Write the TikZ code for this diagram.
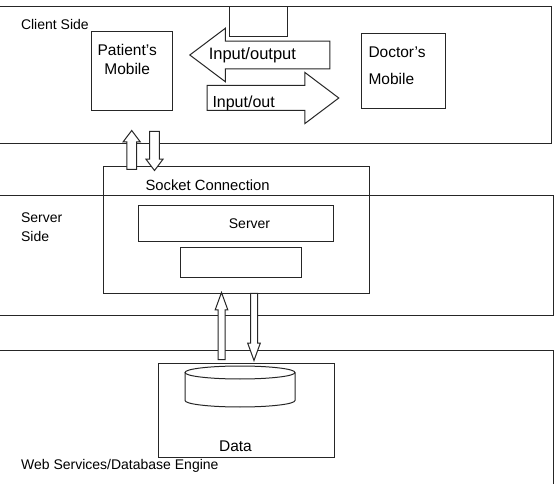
\documentclass[tikz,border=0pt]{standalone}
\usepackage{fontspec}
\setmainfont{Liberation Sans}
\usetikzlibrary{positioning, shapes.arrows}

\begin{document}
\begin{tikzpicture}[
  x=1pt, y=-1pt,
  line width=1pt,
  band/.style={
    draw=black!85,
    rectangle,
    inner sep=0pt,
    anchor=north west
  },
  box/.style={
    draw=black!85,
    rectangle,
    inner sep=0pt,
    anchor=north west
  },
  lbl/.style={font=\fontsize{14}{19}\selectfont, inner sep=0pt, align=left},
  entity/.style={font=\fontsize{15.5}{19}\selectfont, inner sep=0pt},
  bigarrow/.style={
    draw=black!85, fill=white,
    single arrow,
    single arrow head extend=13pt,
    single arrow tip angle=74
  },
  thinarrow/.style={
    draw=black!85, fill=white,
    single arrow,
    inner sep=4.3pt,
    single arrow head extend=3.8pt,
    single arrow tip angle=74,
    minimum height=39pt
  },
  longarrow/.style={
    draw=black!85, fill=white,
    single arrow,
    inner sep=3pt,
    single arrow head extend=2.8pt,
    single arrow tip angle=40,
    minimum height=67pt
  }
]
\useasboundingbox (0,0) rectangle (555,484);

% Three layers
\node[band, minimum width=556pt, minimum height=137.3pt] (clientband) at (-5,5.7) {};
\node[band, minimum width=558pt, minimum height=120pt] (serverband) at (-5,195) {};
\node[band, minimum width=558pt, minimum height=145pt] (dbband) at (-5,350) {};

\node[lbl, anchor=west] (clientlbl) at (20.5,24) {Client Side};
\node[lbl, anchor=north west] (serverlbl) at (20.6,212) {Server\\Side};
\node[lbl, anchor=west] (dblbl) at (20.6,466) {Web Services/Database Engine};

% Client side
\node[box, minimum width=81pt, minimum height=79pt] (patient) at (90.7,31) {};
\node[entity, align=center, below=12.4pt of patient.north, xshift=-4.5pt] (patientlbl)
  {Patient's\\Mobile};
\node[box, minimum width=84pt, minimum height=75pt] (doctor) at (361,32.7) {};
\node[entity, align=left, anchor=north west] (doctorlbl) at (368,46)
  {Doctor's\\[8.3pt]Mobile};
\node[box, minimum width=57.7pt, minimum height=30pt] (topbox) at (229,5.7) {};

\node[bigarrow, inner sep=13.3pt, minimum height=140pt, shape border rotate=180,
  anchor=tip] (outarrow) at (189,55) {};
\node[entity, font=\fontsize{16.5}{19}\selectfont, anchor=west] (outlbl)
  at ([xshift=19.3pt]outarrow.tip) {Input/output};
\node[bigarrow, inner sep=12pt, minimum height=131.6pt, anchor=tail] (inarrow)
  at (206.7,98) {};
\node[entity, font=\fontsize{16}{19}\selectfont, anchor=west] (inlbl)
  at ([xshift=5.3pt, yshift=-5pt]inarrow.tail) {Input/out};

% Server side
\node[box, minimum width=266pt, minimum height=127pt] (socket) at (102.5,166) {};
\node[lbl, font=\fontsize{14.8}{19}\selectfont, anchor=west] (socketlbl) at (145,185)
  {Socket Connection};
\node[box, minimum width=195pt, minimum height=36pt] (server) at (138,205) {};
\node[lbl, xshift=13.5pt] (serverboxlbl) at (server.center) {Server};
\node[box, minimum width=121pt, minimum height=30pt] (engine) at (180,247) {};

\node[thinarrow, shape border rotate=90, anchor=tail] (upclient) at (131.7,170) {};
\node[thinarrow, shape border rotate=270, anchor=tail] (downclient) at (154.5,131) {};

% Database side
\node[box, minimum width=176pt, minimum height=94pt] (data) at (158,363) {};
\node[entity, anchor=base, xshift=-11pt] (datalbl) at ([yshift=6.5pt]data.south) {Data};

% database drum
\coordinate (db) at (240,372.5);
\draw[black!85] (db) ellipse [x radius=55pt, y radius=6.5pt];
\draw[black!85] ([xshift=-55pt]db) -- ++(0,28)
  arc[start angle=180, end angle=360, x radius=55pt, y radius=6.5pt] -- ++(0,-28);

\node[longarrow, shape border rotate=90, anchor=tail] (updb) at (221.5,360) {};
\node[longarrow, shape border rotate=270, anchor=tail] (downdb) at (254,293) {};

\end{tikzpicture}
\end{document}
